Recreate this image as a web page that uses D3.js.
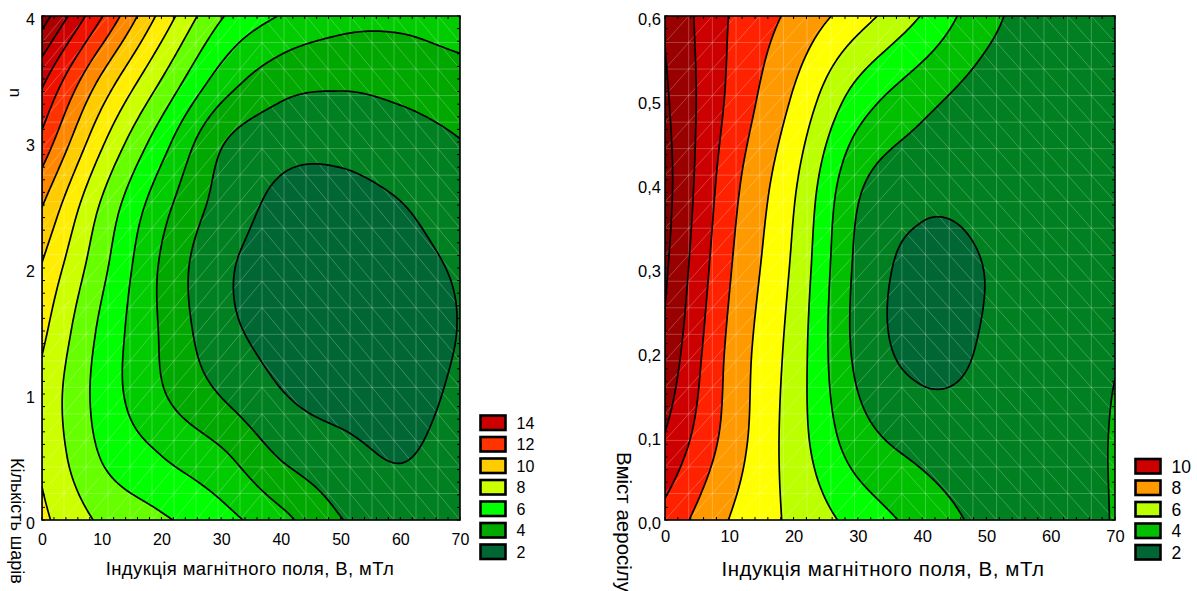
<!DOCTYPE html>
<html><head><meta charset="utf-8">
<script src="https://cdn.jsdelivr.net/npm/d3@7"></script>
<style>
body{margin:0;background:#fff;}
svg{display:block;}
text{font-family:"Liberation Sans",Arial,sans-serif;fill:#000;}
</style>
</head><body>
<svg id="chart" width="1197" height="591"></svg>
<script>
// ---------------- DATA ----------------
const xTicks = [0,10,20,30,40,50,60,70];

// Left chart: response surface sampled at x = induction (mT), y = number of layers n
const leftXValues = [0,10,20,30,40,50,60,70];
const leftYValues = [0,0.5,1,1.5,2,2.5,3,3.5,4];
const leftZ = [
  [8.20, 6.84, 6.14, 5.36, 4.29, 3.04, 2.55, 2.75],  // y=0
  [7.85, 5.95, 5.02, 4.20, 2.94, 2.35, 1.95, 2.50],  // y=0.5
  [7.75, 5.62, 4.10, 2.95, 2.05, 1.65, 1.60, 2.20],  // y=1
  [8.23, 5.78, 3.91, 2.32, 1.70, 1.50, 1.50, 2.03],  // y=1.5
  [8.92, 6.27, 3.88, 2.21, 1.68, 1.55, 1.65, 2.12],  // y=2
  [10.05,6.88, 4.38, 2.65, 1.80, 1.75, 1.97, 2.55],  // y=2.5
  [11.70,8.17, 5.43, 3.10, 2.35, 2.25, 2.55, 2.97],  // y=3
  [13.27,9.83, 7.00, 4.62, 3.45, 3.20, 3.35, 3.65],  // y=3.5
  [15.50,12.07,8.70, 6.10, 4.95, 4.35, 4.25, 4.55]   // y=4
];
const leftLevels = [2,3,4,5,6,7,8,9,10,11,12,13,14,15,16];
const leftYTicks = [0,1,2,3,4];
const leftLegendLabels = [14,12,10,8,6,4,2];

// Right chart: x = induction (mT), y = aerosil content
const rightXValues = [0,10,20,30,40,50,60,70];
const rightYValues = [0,0.1,0.2,0.3,0.4,0.5,0.6];
const rightZ = [
  [8.65, 6.98, 5.79, 4.65, 3.63, 2.75, 2.50, 3.05],  // y=0
  [9.95, 7.63, 5.53, 3.42, 2.60, 2.35, 2.50, 3.06],  // y=0.1
  [10.75,7.80, 5.60, 2.77, 1.72, 2.10, 2.55, 2.95],  // y=0.2
  [11.15,8.10, 5.83, 2.79, 1.70, 2.02, 2.45, 2.70],  // y=0.3
  [11.35,8.42, 6.15, 3.18, 2.35, 2.30, 2.50, 2.65],  // y=0.4
  [11.15,8.83, 6.88, 4.54, 3.30, 2.60, 2.55, 2.50],  // y=0.5
  [10.90,8.98, 7.77, 6.43, 4.95, 3.30, 2.50, 2.45]   // y=0.6
];
const rightLevels = [2,3,4,5,6,7,8,9,10,11,12];
const rightYTicks = [0,0.1,0.2,0.3,0.4,0.5,0.6];
const rightLegendLabels = [10,8,6,4,2];

// ---------------- STYLE / LAYOUT ----------------
const leftColors = ['#006633','#008020','#00a800','#00cc00','#00ff00','#66ff00','#ccff00','#ffee00',
                    '#ffcc00','#ff8800','#ff3300','#ee1100','#cc0000','#aa0000','#8b0000','#700000'];
const rightColors = ['#006633','#008020','#00c000','#00ff00','#bbff00','#ffff00','#ff9900','#ff2200',
                     '#cc0000','#990000','#800000','#700000'];

const svg = d3.select('#chart');
const commaFmt = d3.formatLocale({decimal:",",thousands:" ",grouping:[3],currency:["",""]}).format(".1f");

function catmull(p0,p1,p2,p3,t){
  return 0.5*((2*p1)+(-p0+p2)*t+(2*p0-5*p1+4*p2-p3)*t*t+(-p0+3*p1-3*p2+p3)*t*t*t);
}
function makeSampler(xs, ys, Z){
  const nI = xs.length, nJ = ys.length;
  const get = (jj, ii) => {
    if (ii < 0) return 2*get(jj,0) - get(jj,1);
    if (ii >= nI) return 2*get(jj,nI-1) - get(jj,nI-2);
    if (jj < 0) return 2*get(0,ii) - get(1,ii);
    if (jj >= nJ) return 2*get(nJ-1,ii) - get(nJ-2,ii);
    return Z[jj][ii];
  };
  const dx = xs[1]-xs[0], dy = ys[1]-ys[0];
  return (x,y) => {
    const fx = (x-xs[0])/dx, fy = (y-ys[0])/dy;
    let i = Math.max(0, Math.min(Math.floor(fx), nI-2));
    let j = Math.max(0, Math.min(Math.floor(fy), nJ-2));
    const tx = fx-i, ty = fy-j;
    const c = [];
    for (let m=-1;m<=2;m++) c.push(catmull(get(j+m,i-1),get(j+m,i),get(j+m,i+1),get(j+m,i+2),tx));
    return catmull(c[0],c[1],c[2],c[3],ty);
  };
}

function drawPanel(cfg){
  const xS = d3.scaleLinear().domain([cfg.xs[0], cfg.xs[cfg.xs.length-1]]).range([cfg.left, cfg.right]);
  const yS = d3.scaleLinear().domain([cfg.ys[0], cfg.ys[cfg.ys.length-1]]).range([cfg.bottom, cfg.top]);
  const W = cfg.right-cfg.left, H = cfg.bottom-cfg.top;
  svg.append('clipPath').attr('id','clip'+cfg.id).append('rect')
    .attr('x',cfg.left).attr('y',cfg.top).attr('width',W).attr('height',H);
  const plot = svg.append('g').attr('clip-path',`url(#clip${cfg.id})`);

  const sampler = makeSampler(cfg.xs, cfg.ys, cfg.Z);
  const x0 = cfg.xs[0], y0 = cfg.ys[0];
  const nx = Math.round((cfg.xs[cfg.xs.length-1]-x0)/cfg.stepX)+1;
  const ny = Math.round((cfg.ys[cfg.ys.length-1]-y0)/cfg.stepY)+1;
  const values = new Float64Array(nx*ny);
  for (let j=0;j<ny;j++) for (let i=0;i<nx;i++) values[j*nx+i] = sampler(x0+i*cfg.stepX, y0+j*cfg.stepY);
  const contours = d3.contours().size([nx,ny]).thresholds(cfg.levels)(values);
  const proj = d3.geoTransform({point(x,y){
    this.stream.point(xS(x0+(x-0.5)*cfg.stepX), yS(y0+(y-0.5)*cfg.stepY));
  }});
  const path = d3.geoPath(proj);

  plot.append('rect').attr('x',cfg.left).attr('y',cfg.top).attr('width',W).attr('height',H)
    .attr('fill',cfg.colors[0]);
  plot.append('g').selectAll('path').data(contours).join('path')
    .attr('d',path).attr('fill',(d,i)=>cfg.colors[i+1]).attr('stroke','none');

  // triangular mesh texture
  const mesh = plot.append('g').attr('stroke','#ffffff').attr('stroke-opacity',0.3).attr('stroke-width',0.8).attr('fill','none');
  const nc = 19, cw = W/nc, ch = H/nc;
  for (let k=0;k<=nc;k++){
    mesh.append('line').attr('x1',cfg.left+k*cw).attr('x2',cfg.left+k*cw).attr('y1',cfg.top).attr('y2',cfg.bottom);
    mesh.append('line').attr('y1',cfg.bottom-k*ch).attr('y2',cfg.bottom-k*ch).attr('x1',cfg.left).attr('x2',cfg.right);
  }
  for (let c=0;c<nc;c++) for (let r=0;r<nc;r++){
    const xa = cfg.left+c*cw, xb = xa+cw, yb = cfg.bottom-r*ch, ya = yb-ch;
    if (c < 10) mesh.append('line').attr('x1',xa).attr('y1',yb).attr('x2',xb).attr('y2',ya);
    else mesh.append('line').attr('x1',xa).attr('y1',ya).attr('x2',xb).attr('y2',yb);
  }

  plot.append('g').selectAll('path').data(contours).join('path')
    .attr('d',path).attr('fill','none').attr('stroke','#000').attr('stroke-width',1.7).attr('stroke-linejoin','round');

  // frame + minor ticks
  const fr = svg.append('g').attr('stroke','#000').attr('stroke-width',1);
  d3.range(cfg.xs[0], cfg.xs[cfg.xs.length-1]+1e-9, cfg.minorX).forEach(v=>{
    fr.append('line').attr('x1',xS(v)).attr('x2',xS(v)).attr('y1',cfg.bottom).attr('y2',cfg.bottom-3);
    fr.append('line').attr('x1',xS(v)).attr('x2',xS(v)).attr('y1',cfg.top).attr('y2',cfg.top+3);
  });
  d3.range(cfg.ys[0], cfg.ys[cfg.ys.length-1]+1e-9, cfg.minorY).forEach(v=>{
    fr.append('line').attr('y1',yS(v)).attr('y2',yS(v)).attr('x1',cfg.left).attr('x2',cfg.left+3);
    fr.append('line').attr('y1',yS(v)).attr('y2',yS(v)).attr('x1',cfg.right).attr('x2',cfg.right-3);
  });
  svg.append('rect').attr('x',cfg.left).attr('y',cfg.top).attr('width',W).attr('height',H)
    .attr('fill','none').attr('stroke','#000').attr('stroke-width',1.6);

  // axes labels via d3 axes
  const ax = svg.append('g').attr('transform',`translate(0,${cfg.bottom})`)
    .call(d3.axisBottom(xS).tickValues(xTicks).tickSize(0).tickPadding(cfg.xPad));
  ax.select('.domain').remove();
  ax.selectAll('text').attr('font-size',cfg.tickFont).attr('font-family','Liberation Sans, Arial, sans-serif').attr('fill','#000');
  const ay = svg.append('g').attr('transform',`translate(${cfg.left},0)`)
    .call(d3.axisLeft(yS).tickValues(cfg.yTicks).tickSize(0).tickPadding(cfg.yPad).tickFormat(cfg.yFmt));
  ay.select('.domain').remove();
  ay.selectAll('text').attr('font-size',cfg.tickFont).attr('dy','0.5em').attr('font-family','Liberation Sans, Arial, sans-serif').attr('fill','#000');

  // titles
  svg.append('text').attr('x',cfg.xTitleX).attr('y',cfg.xTitleY).attr('text-anchor','middle')
    .attr('font-size',cfg.titleFont).attr('letter-spacing',cfg.titleSpacing).text('Індукція магнітного поля, В, мТл');
  cfg.yTitles.forEach(t=>{
    svg.append('text').attr('transform',`translate(${t.x},${t.y}) rotate(90)`)
      .attr('font-size',t.size).text(t.text);
  });

  // legend
  const lg = svg.append('g');
  cfg.legend.forEach((lab,k)=>{
    const yy = cfg.legendY + k*cfg.legendStep;
    const band = cfg.levels.indexOf(lab); // label k -> band (k-1,k]
    lg.append('rect').attr('x',cfg.legendX).attr('y',yy).attr('width',25).attr('height',14.5)
      .attr('fill',cfg.colors[band]).attr('stroke','#000').attr('stroke-width',2.6);
    lg.append('text').attr('x',cfg.legendX+36).attr('y',yy+7.3).attr('dy','0.36em')
      .attr('font-size',cfg.legendFont).text(lab);
  });
}

drawPanel({
  id:'L', xs:leftXValues, ys:leftYValues, Z:leftZ, levels:leftLevels, colors:leftColors,
  left:42, right:460, top:16, bottom:520, stepX:0.25, stepY:0.02,
  minorX:2, minorY:0.1, yTicks:leftYTicks, yFmt:d3.format('d'),
  xPad:13.6, yPad:7, tickFont:16,
  xTitleX:250, xTitleY:575, titleFont:18.5, titleSpacing:0.4,
  yTitles:[{x:11,y:458,text:'Кількість шарів',size:18},{x:10,y:88,text:'n',size:17}],
  legend:leftLegendLabels, legendX:480.5, legendY:415.5, legendStep:21.5, legendFont:16
});
drawPanel({
  id:'R', xs:rightXValues, ys:rightYValues, Z:rightZ, levels:rightLevels, colors:rightColors,
  left:665, right:1115, top:16, bottom:520, stepX:0.25, stepY:0.003,
  minorX:2, minorY:0.015, yTicks:rightYTicks, yFmt:commaFmt,
  xPad:10.5, yPad:4, tickFont:16.5,
  xTitleX:883, xTitleY:576, titleFont:20.5, titleSpacing:0.55,
  yTitles:[{x:617,y:452,text:'Вміст аеросілу, %',size:20.5}],
  legend:rightLegendLabels, legendX:1135.5, legendY:459, legendStep:21.5, legendFont:17.5
});
</script>
</body></html>
